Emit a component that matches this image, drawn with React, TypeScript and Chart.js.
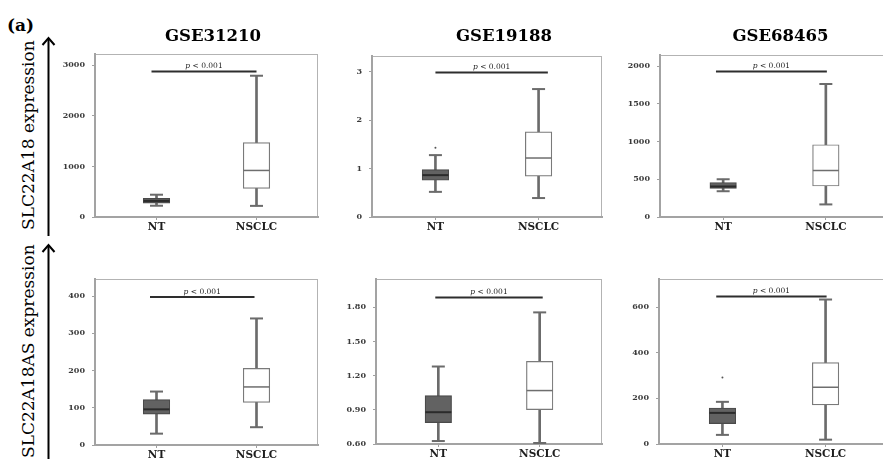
import React, { useEffect, useRef } from 'react';
import { Chart, registerables } from 'chart.js';

Chart.register(...registerables);

// ---------------- data ----------------
const categories = ['NT', 'NSCLC'];
const datasetTitles = ['GSE31210', 'GSE19188', 'GSE68465'];
const geneLabels = ['SLC22A18 expression', 'SLC22A18AS expression'];
const panelLetter = '(a)';
const pLabel = ['p', ' < 0.001'];

// five-number summaries: [min, Q1, median, Q3, max]
const a18_GSE31210_NT = [223, 275, 318, 368, 441];
const a18_GSE31210_NSCLC = [220, 565, 921, 1470, 2795];
const a18_GSE19188_NT = [0.52, 0.76, 0.866, 0.98, 1.28];
const a18_GSE19188_NSCLC = [0.392, 0.846, 1.22, 1.76, 2.646];
const a18_GSE68465_NT = [342, 380, 405, 458, 501];
const a18_GSE68465_NSCLC = [167, 411, 617, 959, 1765];
const as_GSE31210_NT = [30.5, 82.8, 95.8, 121.9, 143.6];
const as_GSE31210_NSCLC = [47.8, 114.5, 156, 205.7, 340];
const as_GSE19188_NT = [0.626, 0.788, 0.879, 1.024, 1.28];
const as_GSE19188_NSCLC = [0.609, 0.902, 1.069, 1.325, 1.755];
const as_GSE68465_NT = [40, 89.6, 136.5, 158, 185];
const as_GSE68465_NSCLC = [19, 172, 249, 357, 634];

// outliers (NT only)
const a18_GSE19188_NT_out = [1.43];
const as_GSE68465_NT_out = [292];

// significance bracket: value, start/end in category units
const bracketValues = [2880, 2.99, 1932, 397.6, 1.886, 647];
const bracketFrom = [-0.05, 0, -0.07, -0.065, -0.03, -0.06];
const bracketTo = [1.0, 1.09, 1.01, 0.98, 1.03, 1.01];

// axis ranges and ticks
const yMinValues = [0, 0, 0, 0, 0.6, 0];
const yMaxValues = [3225, 3.33, 2150, 446, 2.048, 724];
const ticks_a18_GSE31210 = [0, 1000, 2000, 3000];
const ticks_a18_GSE19188 = [0, 1, 2, 3];
const ticks_a18_GSE68465 = [0, 500, 1000, 1500, 2000];
const ticks_as_GSE31210 = [0, 100, 200, 300, 400];
const ticks_as_GSE19188 = [0.6, 0.9, 1.2, 1.5, 1.8];
const ticks_as_GSE68465 = [0, 200, 400, 600];
const labels_a18_GSE31210 = ['0', '1000', '2000', '3000'];
const labels_a18_GSE19188 = ['0', '1', '2', '3'];
const labels_a18_GSE68465 = ['0', '500', '1000', '1500', '2000'];
const labels_as_GSE31210 = ['0', '100', '200', '300', '400'];
const labels_as_GSE19188 = ['0.60', '0.90', '1.20', '1.50', '1.80'];
const labels_as_GSE68465 = ['0', '200', '400', '600'];

const panelSummaries = [
  [a18_GSE31210_NT, a18_GSE31210_NSCLC],
  [a18_GSE19188_NT, a18_GSE19188_NSCLC],
  [a18_GSE68465_NT, a18_GSE68465_NSCLC],
  [as_GSE31210_NT, as_GSE31210_NSCLC],
  [as_GSE19188_NT, as_GSE19188_NSCLC],
  [as_GSE68465_NT, as_GSE68465_NSCLC],
];
const panelOutliers: number[][][] = [
  [[], []],
  [a18_GSE19188_NT_out, []],
  [[], []],
  [[], []],
  [[], []],
  [as_GSE68465_NT_out, []],
];
const panelTicks = [ticks_a18_GSE31210, ticks_a18_GSE19188, ticks_a18_GSE68465, ticks_as_GSE31210, ticks_as_GSE19188, ticks_as_GSE68465];
const panelTickLabels = [labels_a18_GSE31210, labels_a18_GSE19188, labels_a18_GSE68465, labels_as_GSE31210, labels_as_GSE19188, labels_as_GSE68465];

// ---------------- layout ----------------
const frames = [
  { l: 95, t: 49, w: 232, h: 168 },
  { l: 372, t: 51, w: 239, h: 166 },
  { l: 660, t: 50, w: 238, h: 167 },
  { l: 95, t: 274, w: 232, h: 171 },
  { l: 376, t: 274, w: 235, h: 170 },
  { l: 659, t: 274, w: 239, h: 170 },
];
const Y_W = 40;
const X_H = 22;
const PAD_T = 10;
const PAD_R = 6;
const X_MIN = -0.615;
const X_MAX = 1.615;
const SERIF = '"DejaVu Serif", serif';

const framePlugin = {
  id: 'frameBox',
  beforeDraw(chart: any) {
    const { ctx, chartArea: a } = chart;
    ctx.save();
    ctx.strokeStyle = '#b3b3b3';
    ctx.lineWidth = 1;
    ctx.strokeRect(a.left + 0.5, a.top + 0.5, a.right - a.left - 1, a.bottom - a.top);
    ctx.restore();
  },
};

const BRACKET_INDEX = 3;
const pTextPlugin = {
  id: 'pText',
  afterDatasetsDraw(chart: any) {
    const meta = chart.getDatasetMeta(BRACKET_INDEX);
    if (!meta || meta.data.length < 2) return;
    const p0 = meta.data[0];
    const p1 = meta.data[1];
    const { ctx } = chart;
    const cx = (p0.x + p1.x) / 2;
    const y = p0.y - 3.5;
    ctx.save();
    ctx.fillStyle = '#222';
    ctx.textBaseline = 'alphabetic';
    ctx.font = `italic 7.5px ${SERIF}`;
    const w1 = ctx.measureText(pLabel[0]).width;
    ctx.font = `7.5px ${SERIF}`;
    const w2 = ctx.measureText(pLabel[1]).width;
    let x = cx - (w1 + w2) / 2;
    ctx.font = `italic 7.5px ${SERIF}`;
    ctx.fillText(pLabel[0], x, y);
    x += w1;
    ctx.font = `7.5px ${SERIF}`;
    ctx.fillText(pLabel[1], x, y);
    ctx.restore();
  },
};

function BoxPanel({ idx }: { idx: number }) {
  const ref = useRef<HTMLCanvasElement>(null);
  const f = frames[idx];
  const cw = Y_W + f.w + PAD_R;
  const ch = PAD_T + f.h + X_H;

  useEffect(() => {
    const [nt, ns] = panelSummaries[idx];
    const outs = panelOutliers[idx];
    const tickVals = panelTicks[idx];
    const tickLabs = panelTickLabels[idx];
    const whisk = '#6b6b6b';

    const datasets: any[] = [
      {
        type: 'line',
        label: 'median',
        data: [{ x: 0, y: nt[2] }, { x: 1, y: ns[2] }],
        showLine: false,
        pointStyle: 'line',
        pointRadius: 13,
        pointBorderWidth: [2, 1.5],
        pointBorderColor: ['#2b2b2b', '#6e6e6e'],
        order: 0,
      },
      {
        type: 'line',
        label: 'caps',
        data: [
          { x: 0, y: nt[0] }, { x: 0, y: nt[4] },
          { x: 1, y: ns[0] }, { x: 1, y: ns[4] },
        ],
        showLine: false,
        pointStyle: 'line',
        pointRadius: 6.5,
        pointBorderWidth: 2,
        pointBorderColor: whisk,
        order: 0,
      },
      {
        type: 'line',
        label: 'outliers',
        data: [
          ...outs[0].map((v) => ({ x: 0, y: v })),
          ...outs[1].map((v) => ({ x: 1, y: v })),
        ],
        showLine: false,
        pointStyle: 'circle',
        pointRadius: 1,
        pointBorderWidth: 0,
        pointBackgroundColor: '#555',
        order: 0,
      },
      {
        type: 'line',
        label: 'bracket',
        data: [{ x: bracketFrom[idx], y: bracketValues[idx] }, { x: bracketTo[idx], y: bracketValues[idx] }],
        borderColor: '#2e2e2e',
        borderWidth: 2,
        pointRadius: 0,
        order: 0,
      },
      {
        type: 'bar',
        label: 'box',
        data: [{ x: 0, y: [nt[1], nt[3]] }, { x: 1, y: [ns[1], ns[3]] }],
        backgroundColor: ['#626262', '#ffffff'],
        borderColor: ['#4a4a4a', '#7a7a7a'],
        borderWidth: 1.2,
        borderSkipped: false,
        barThickness: 26.5,
        grouped: false,
        order: 1,
      },
      {
        type: 'bar',
        label: 'whisker',
        data: [{ x: 0, y: [nt[0], nt[4]] }, { x: 1, y: [ns[0], ns[4]] }],
        backgroundColor: whisk,
        borderWidth: 0,
        barThickness: 2,
        grouped: false,
        order: 2,
      },
    ];

    const chart = new Chart(ref.current as HTMLCanvasElement, {
      type: 'bar',
      data: { datasets },
      options: {
        responsive: false,
        animation: false,
        events: [],
        layout: { padding: { left: 0, top: PAD_T, right: PAD_R, bottom: 0 } },
        plugins: { legend: { display: false }, tooltip: { enabled: false }, title: { display: false } },
        scales: {
          x: {
            type: 'linear',
            min: X_MIN,
            max: X_MAX,
            offset: false,
            afterBuildTicks: (ax: any) => {
              ax.ticks = categories.map((_, i) => ({ value: i }));
            },
            afterFit: (ax: any) => {
              ax.height = X_H;
            },
            ticks: {
              autoSkip: false,
              maxRotation: 0,
              padding: 1,
              color: '#1e1e1e',
              font: { family: SERIF, size: 10.5, weight: 'bold' },
              callback: (v: any) => categories[Math.round(Number(v))],
            },
            grid: { drawOnChartArea: false, offset: false, tickLength: 3, color: '#a0a0a0', lineWidth: 1 },
            border: { display: true, color: '#a3a3a3', width: 2 },
          },
          y: {
            type: 'linear',
            min: yMinValues[idx],
            max: yMaxValues[idx],
            beginAtZero: false,
            afterBuildTicks: (ax: any) => {
              ax.ticks = tickVals.map((v) => ({ value: v }));
            },
            afterFit: (ax: any) => {
              ax.width = Y_W;
            },
            ticks: {
              padding: 7,
              color: '#3a3a3a',
              font: { family: SERIF, size: 8, weight: 'bold' },
              callback: (_v: any, i: number) => tickLabs[i],
            },
            grid: { drawOnChartArea: false, tickLength: 3, color: '#a0a0a0', lineWidth: 1 },
            border: { display: true, color: '#a3a3a3', width: 2 },
          },
        },
      } as any,
      plugins: [framePlugin, pTextPlugin],
    });
    return () => chart.destroy();
  }, [idx]);

  return (
    <canvas
      ref={ref}
      width={cw}
      height={ch}
      style={{ position: 'absolute', left: f.l - Y_W, top: f.t - PAD_T, width: cw, height: ch }}
    />
  );
}

const titleCenters = [213, 504, 780.5];
const TITLE_SIZE = 16.5;
const GENE_SIZE = 17;

export default function App() {
  return (
    <div
      style={{
        position: 'absolute',
        left: 0,
        top: 0,
        width: 883,
        height: 459,
        overflow: 'hidden',
        background: '#ffffff',
        fontFamily: SERIF,
        color: '#000',
      }}
    >
      {frames.map((_, i) => (
        <BoxPanel key={i} idx={i} />
      ))}
      <div style={{ position: 'absolute', left: 7, top: 15, fontSize: 17, fontWeight: 'bold', lineHeight: 'normal', whiteSpace: 'nowrap' }}>
        {panelLetter}
      </div>
      {datasetTitles.map((t, i) => (
        <div
          key={t}
          style={{
            position: 'absolute',
            left: titleCenters[i] - 100,
            width: 200,
            top: 41.7 - 0.928 * TITLE_SIZE,
            textAlign: 'center',
            fontSize: TITLE_SIZE,
            fontWeight: 'bold',
            lineHeight: 'normal',
            whiteSpace: 'nowrap',
          }}
        >
          {t}
        </div>
      ))}
      {geneLabels.map((g, i) => (
        <div
          key={g}
          style={{
            position: 'absolute',
            left: 33.3 - 0.928 * GENE_SIZE,
            top: i === 0 ? 230 : 458,
            transform: 'rotate(-90deg)',
            transformOrigin: '0 0',
            fontSize: GENE_SIZE,
            lineHeight: 'normal',
            whiteSpace: 'nowrap',
          }}
        >
          {g}
        </div>
      ))}
      <svg width={883} height={459} style={{ position: 'absolute', left: 0, top: 0 }}>
        <line x1={48.5} y1={236} x2={48.5} y2={38.5} stroke="#000" strokeWidth={2} />
        <polyline points="42.5,45 48.5,38 54.5,45" fill="none" stroke="#000" strokeWidth={2} />
        <line x1={48.5} y1={462} x2={48.5} y2={245} stroke="#000" strokeWidth={2} />
        <polyline points="42.5,252 48.5,245 54.5,252" fill="none" stroke="#000" strokeWidth={2} />
      </svg>
    </div>
  );
}
